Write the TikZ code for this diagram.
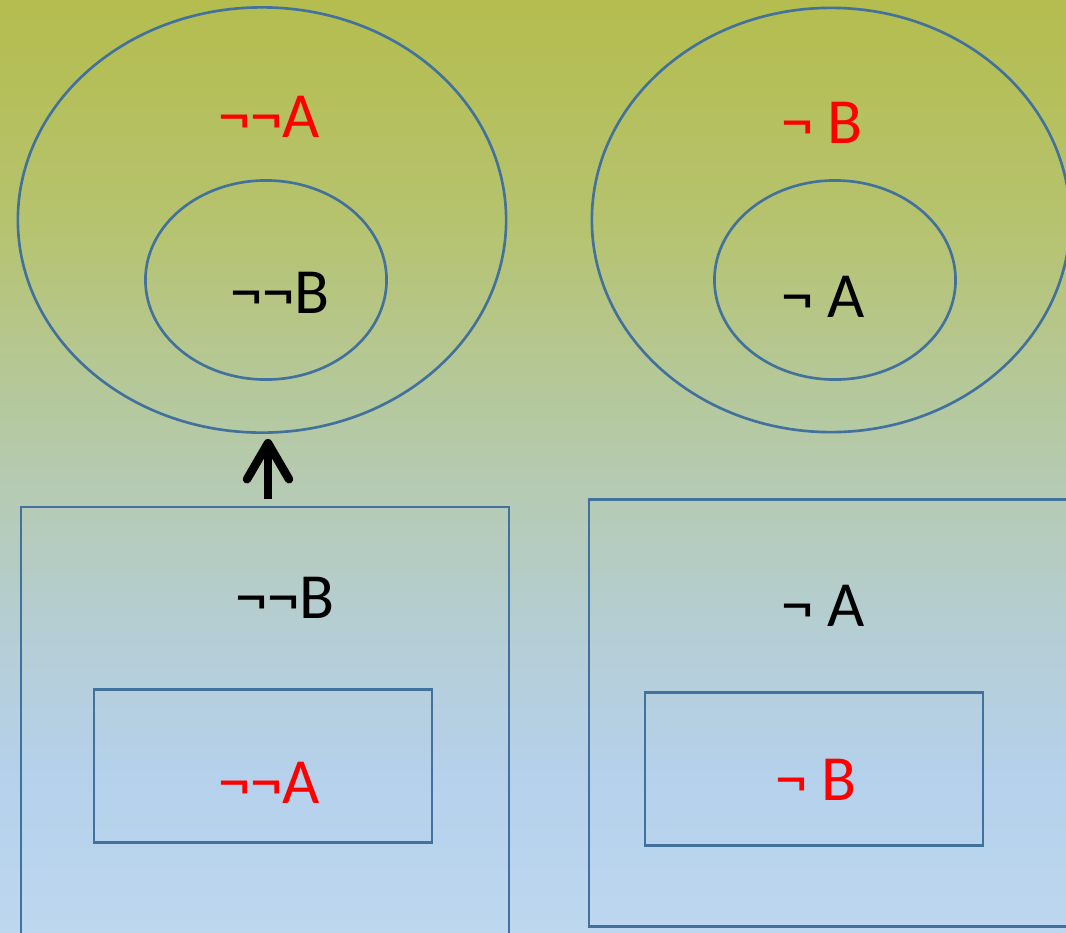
\documentclass[tikz,border=0pt]{standalone}
\usepackage{fontspec}
\setmainfont{Carlito}
\usetikzlibrary{shapes.geometric, arrows.meta}
\definecolor{edge}{RGB}{65,113,156}
\definecolor{redtxt}{RGB}{255,0,0}
\pgfdeclareverticalshading{bgfade}{100bp}{%
    rgb(0bp)=(0.741,0.843,0.933); rgb(25bp)=(0.741,0.843,0.933);
    rgb(33.2bp)=(0.710,0.820,0.925); rgb(40.7bp)=(0.710,0.808,0.839);
    rgb(50.3bp)=(0.710,0.792,0.675); rgb(63.2bp)=(0.714,0.765,0.431);
    rgb(75bp)=(0.706,0.741,0.306); rgb(100bp)=(0.706,0.741,0.306)}
\tikzstyle{ring}=[ellipse, draw=edge, line width=0.75pt, inner sep=0pt]
\tikzstyle{box}=[rectangle, draw=edge, line width=0.75pt, inner sep=0pt]
\tikzstyle{lbl}=[font=\fontsize{18.3}{21}\selectfont, inner sep=0pt]

\begin{document}
\begin{tikzpicture}[x=0.01cm, y=-0.01cm]
    \useasboundingbox (0,0) rectangle (1066,933);
    \clip (0,0) rectangle (1066,933);
    \shade[shading=bgfade] (0,0) rectangle (1066,933);
    % top left: the two ellipses
    \node[ring, minimum width=4.88cm, minimum height=4.25cm] (outerA) at (262,220) {};
    \node[ring, minimum width=2.41cm, minimum height=1.99cm] (innerB) at (266,280) {};
    \node[lbl, text=redtxt] (nnA) at (269,117) {¬¬A};
    \node[lbl] (nnB) at (280,293) {¬¬B};
    % top right
    \node[ring, minimum width=4.78cm, minimum height=4.24cm] (outerB) at (831,220) {};
    \node[ring, minimum width=2.41cm, minimum height=1.99cm] (innerA) at (835,280) {};
    \node[lbl, text=redtxt] (nB) at (822,123) {¬ B};
    \node[lbl] (nA) at (823,297) {¬ A};
    % bottom left: the two boxes
    \node[box, minimum width=4.88cm, minimum height=4.40cm] (boxB) at (265,727) {};
    \node[box, minimum width=3.38cm, minimum height=1.53cm] (boxA) at (263,766) {};
    \node[lbl] (bnnB) at (285,598) {¬¬B};
    \node[lbl, text=redtxt] (bnnA) at (269,783) {¬¬A};
    % bottom right
    \node[box, minimum width=4.86cm, minimum height=4.27cm] (boxAA) at (832,713) {};
    \node[box, minimum width=3.38cm, minimum height=1.53cm] (boxBB) at (814,769) {};
    \node[lbl] (bnA) at (823,606) {¬ A};
    \node[lbl, text=redtxt] (bnB) at (816,780) {¬ B};
    % the arrow
    \draw[line width=0.085cm, -{Straight Barb[round, length=0.36cm, width=0.42cm]}, shorten <=0.07cm, shorten >=0.05cm]
        ([xshift=0.03cm]boxB.north) -- ([xshift=0.03cm]boxB.north |- outerA.south);
\end{tikzpicture}
\end{document}
